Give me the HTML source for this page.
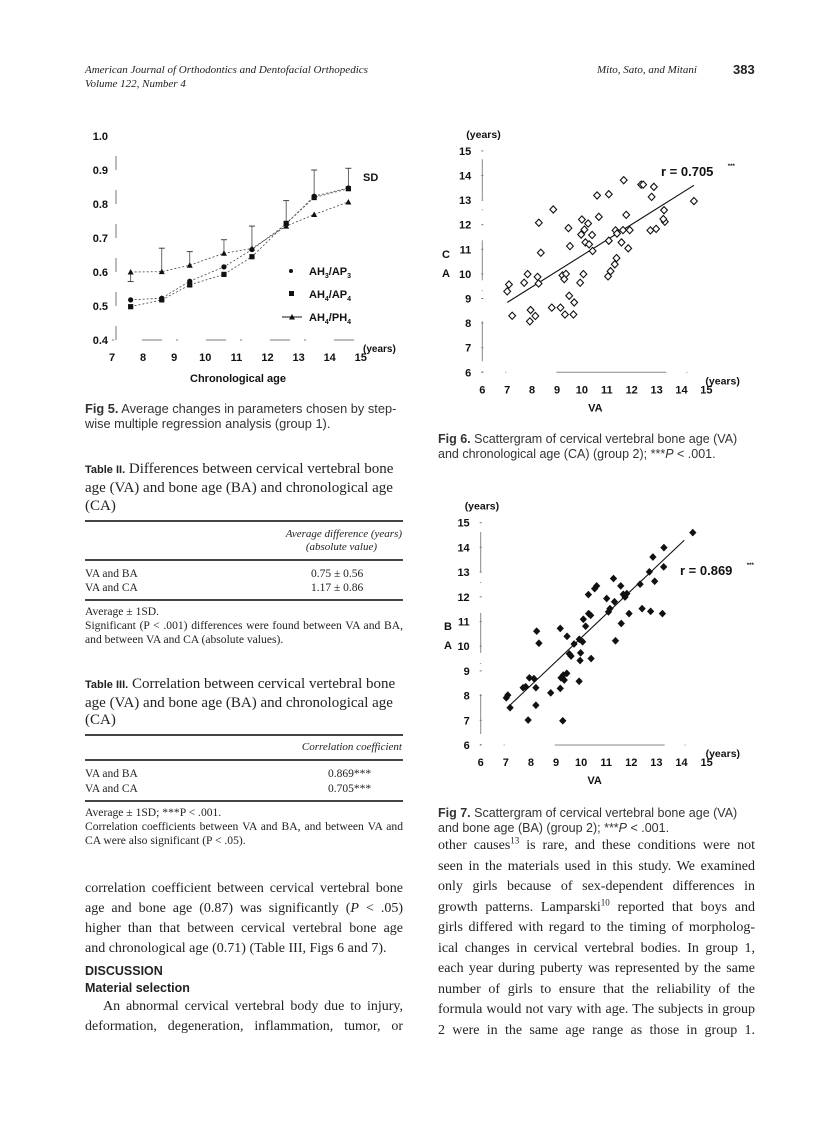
<!DOCTYPE html>
<html><head><meta charset="utf-8"><style>
html,body{margin:0;padding:0;background:#fff}
body{width:838px;height:1122px;position:relative;overflow:hidden;font-family:"Liberation Serif",serif;color:#222}
.t{position:absolute;white-space:nowrap}
.it{font-style:italic}
.sans{font-family:"Liberation Sans",sans-serif}
.j{text-align:justify;text-align-last:justify;white-space:normal}
sup{line-height:0;font-size:9px;vertical-align:super}
.rule{position:absolute;left:85px;width:318px;background:#444}
.note{position:absolute;left:85px;width:318px;font-size:11.6px;line-height:14px}
svg text{font-family:"Liberation Sans",sans-serif;font-weight:bold;fill:#111}
</style></head><body>
<div class="t it" style="left:85px;top:64px;font-size:11px">American Journal of Orthodontics and Dentofacial Orthopedics</div>
<div class="t it" style="left:85px;top:78px;font-size:11px">Volume 122, Number 4</div>
<div class="t it" style="left:597px;top:64px;font-size:11px">Mito, Sato, and Mitani</div>
<div class="t sans" style="left:733px;top:62px;font-size:13px;font-weight:bold">383</div>

<svg id="charts" width="838" height="1122" style="position:absolute;left:0;top:0"></svg>

<div class="t sans" style="left:85px;top:401px;font-size:12.8px;line-height:15px;color:#333"><b>Fig 5.</b> Average changes in parameters chosen by step-<br>wise multiple regression analysis (group 1).</div>

<div class="t" style="left:85px;top:460px;font-size:15px;line-height:18px"><span class="sans" style="font-size:11px;font-weight:bold">Table II.</span> Differences between cervical vertebral bone<br>age (VA) and bone age (BA) and chronological age<br>(CA)</div>
<div class="rule" style="top:520px;height:1.5px"></div>
<div class="t it" style="left:230px;width:172px;top:528px;font-size:11px;line-height:13px;text-align:right">Average difference (years)<br><span style="margin-right:25px">(absolute value)</span></div>
<div class="rule" style="top:559px;height:1.5px"></div>
<div class="t" style="left:85px;top:567px;font-size:11.5px;line-height:14px">VA and BA<br>VA and CA</div>
<div class="t" style="left:311px;top:567px;font-size:11.5px;line-height:14px">0.75 ± 0.56<br>1.17 ± 0.86</div>
<div class="rule" style="top:599px;height:1.5px"></div>
<div class="note" style="top:605px"><div>Average ± 1SD.</div><div class="j">Significant (P &lt; .001) differences were found between VA and BA,</div><div>and between VA and CA (absolute values).</div></div>

<div class="t" style="left:85px;top:676px;font-size:15px;line-height:17.5px"><span class="sans" style="font-size:11px;font-weight:bold">Table III.</span> Correlation between cervical vertebral bone<br>age (VA) and bone age (BA) and chronological age<br>(CA)</div>
<div class="rule" style="top:734px;height:1.5px"></div>
<div class="t it" style="left:230px;width:172px;top:741px;font-size:11px;text-align:right">Correlation coefficient</div>
<div class="rule" style="top:759px;height:1.5px"></div>
<div class="t" style="left:85px;top:767px;font-size:11.5px;line-height:15px">VA and BA<br>VA and CA</div>
<div class="t" style="left:328px;top:767px;font-size:11.5px;line-height:15px">0.869***<br>0.705***</div>
<div class="rule" style="top:800px;height:1.5px"></div>
<div class="note" style="top:806px"><div>Average ± 1SD; ***P &lt; .001.</div><div class="j">Correlation coefficients between VA and BA, and between VA and</div><div>CA were also significant (P &lt; .05).</div></div>

<div class="t sans" style="left:438px;top:432px;font-size:12.5px;line-height:15px;color:#333"><b>Fig 6.</b> Scattergram of cervical vertebral bone age (VA)<br>and chronological age (CA) (group 2); ***<i>P</i> &lt; .001.</div>
<div class="t sans" style="left:438px;top:806px;font-size:12.5px;line-height:15px;color:#333"><b>Fig 7.</b> Scattergram of cervical vertebral bone age (VA)<br>and bone age (BA) (group 2); ***<i>P</i> &lt; .001.</div>

<div style="position:absolute;left:85px;top:879px;width:318px;font-size:14px;line-height:20px">
<div class="j">correlation coefficient between cervical vertebral bone</div>
<div class="j">age and bone age (0.87) was significantly (<i>P</i> &lt; .05)</div>
<div class="j">higher than that between cervical vertebral bone age</div>
<div>and chronological age (0.71) (Table III, Figs 6 and 7).</div>
<div class="sans" style="font-weight:bold;font-size:12.5px;margin-top:3px;line-height:18px">DISCUSSION</div>
<div class="sans" style="font-weight:bold;font-size:12.5px;line-height:17px">Material selection</div>
<div class="j" style="padding-left:18px">An abnormal cervical vertebral body due to injury,</div>
<div class="j">deformation, degeneration, inflammation, tumor, or</div>
</div>
<div style="position:absolute;left:438px;top:836px;width:317px;font-size:14px;line-height:20.5px">
<div class="j">other causes<sup>13</sup> is rare, and these conditions were not</div>
<div class="j">seen in the materials used in this study. We examined</div>
<div class="j">only girls because of sex-dependent differences in</div>
<div class="j">growth patterns. Lamparski<sup>10</sup> reported that boys and</div>
<div class="j">girls differed with regard to the timing of morpholog-</div>
<div class="j">ical changes in cervical vertebral bodies. In group 1,</div>
<div class="j">each year during puberty was represented by the same</div>
<div class="j">number of girls to ensure that the reliability of the</div>
<div class="j">formula would not vary with age. The subjects in group</div>
<div class="j">2 were in the same age range as those in group 1.</div>
</div>

<script>
// ---- Fig 5 data ----
const ageX = [7.6, 8.6, 9.5, 10.6, 11.5, 12.6, 13.5, 14.6];
const ah3ap3 = [0.518, 0.523, 0.573, 0.615, 0.666, 0.741, 0.823, 0.847];
const ah4ap4 = [0.498, 0.518, 0.562, 0.593, 0.645, 0.743, 0.819, 0.845];
const ah4ph4 = [0.600, 0.601, 0.620, 0.655, 0.669, 0.735, 0.769, 0.806];
const sdUpper = [0.572, 0.67, 0.66, 0.695, 0.735, 0.81, 0.9, 0.905];
const yTicks5 = ["0.4","0.5","0.6","0.7","0.8","0.9","1.0"];
const xTicks5 = ["7","8","9","10","11","12","13","14","15"];
// ---- Fig 6 data (VA, CA) ----
const va6 = [7.0,7.07,7.2,7.68,7.82,7.94,7.91,8.13,8.22,8.26,8.27,8.35,8.79,8.85,9.14,9.22,9.32,9.36,9.29,9.46,9.49,9.52,9.69,9.66,9.93,9.97,10.0,10.06,10.1,10.14,10.25,10.29,10.41,10.43,10.61,10.68,11.08,11.08,11.15,11.05,11.32,11.39,11.35,11.41,11.59,11.68,11.65,11.78,11.86,11.92,12.38,12.46,12.75,12.8,12.89,12.98,13.3,13.33,13.27,14.5];
const ca6 = [9.29,9.57,8.3,9.64,9.99,8.53,8.07,8.29,9.88,9.61,12.08,10.86,8.63,12.62,8.63,9.94,8.35,10.0,9.79,11.86,9.11,11.13,8.84,8.35,9.64,11.6,12.21,9.99,11.8,11.28,12.05,11.2,11.58,10.93,13.19,12.32,13.24,11.35,10.11,9.9,10.39,10.64,11.77,11.64,11.28,13.81,11.78,12.4,11.04,11.78,13.63,13.63,11.77,13.13,13.54,11.83,12.59,12.12,12.23,12.96];
const fit6X = [7.0, 14.5];
const fit6Y = [8.84, 13.6];
// ---- Fig 7 data (VA, BA) ----
const va7 = [7.02,7.08,7.17,7.69,7.79,7.94,8.12,8.2,8.2,7.89,8.23,8.32,8.79,9.17,9.17,9.2,9.27,9.29,9.33,9.43,9.44,9.53,9.6,9.72,9.92,9.93,9.98,9.96,10.06,10.09,10.18,10.29,10.3,10.38,10.4,10.54,10.62,11.02,11.09,11.15,11.29,11.33,11.37,11.58,11.6,11.68,11.75,11.82,11.91,12.35,12.43,12.72,12.86,12.93,12.77,13.24,13.29,13.3,14.45];
const ba7 = [7.91,8.02,7.51,8.32,8.36,8.72,8.69,8.32,7.61,7.01,10.61,10.12,8.11,10.72,8.29,8.72,6.98,8.83,8.63,8.9,10.4,9.69,9.6,10.09,8.58,10.28,9.73,9.42,10.18,11.09,10.81,12.09,11.32,11.25,9.5,12.33,12.44,11.93,11.39,11.52,12.74,11.8,10.22,12.44,10.92,12.1,11.99,12.13,11.32,12.51,11.52,13.01,13.61,12.63,11.41,11.32,13.21,13.99,14.6];
const fit7X = [7.12, 14.11];
const fit7Y = [7.57, 14.29];
const scatterTicks = ["6","7","8","9","10","11","12","13","14","15"];

const svg = document.getElementById('charts');
const NS = 'http://www.w3.org/2000/svg';
function mk(tag, attrs, parent){
  const e = document.createElementNS(NS, tag);
  for (const k in attrs) e.setAttribute(k, attrs[k]);
  (parent||svg).appendChild(e);
  return e;
}
function txt(x,y,s,size,anchor,parent){
  const e = mk('text',{x:x,y:y,'font-size':size,'text-anchor':anchor||'start'},parent);
  e.textContent = s; return e;
}

// ===== Fig 5 =====
const g5 = mk('g',{});


const x5 = v => 112 + (v-7)*31.1;
const y5 = v => 340 - (v-0.4)*340;
mk('line',{x1:116,y1:y5(0.4),x2:116,y2:y5(1.0),stroke:'#777','stroke-width':1,'stroke-dasharray':'14 20'},g5);
mk('line',{x1:112,y1:340,x2:361,y2:340,stroke:'#777','stroke-width':1,'stroke-dasharray':'2 28 20 14'},g5);
yTicks5.forEach(s=>{ const t=txt(108,y5(parseFloat(s))+4,s,11,'end',g5);
    });
xTicks5.forEach(s=>{ const t=txt(x5(parseFloat(s)),361,s,11,'middle',g5);
    });
const xt5 = txt(238,382,'Chronological age',11,'middle',g5);


txt(363,352,'(years)',10,'start',g5);
txt(363,181,'SD',11,'start',g5);
ageX.forEach((a,i)=>{
  const top = Math.max(ah3ap3[i], ah4ph4[i]);
  const e = mk('line',{x1:x5(a),y1:y5(top),x2:x5(a),y2:y5(sdUpper[i]),stroke:'#444','stroke-width':0.8},g5);
  
  
  mk('line',{x1:x5(a)-3,y1:y5(sdUpper[i]),x2:x5(a)+3,y2:y5(sdUpper[i]),stroke:'#444','stroke-width':1},g5);
});
function series5(vals, marker, name){
  const pts = vals.map((v,i)=>x5(ageX[i])+','+y5(v)).join(' ');
  const pl = mk('polyline',{points:pts,fill:'none',stroke:'#444','stroke-width':0.8,'stroke-dasharray':'2 2'},g5);
  
  
  vals.forEach((v,i)=>{
    const cx=x5(ageX[i]), cy=y5(v); let m;
    if(marker==='c') m=mk('circle',{cx:cx,cy:cy,r:2.6,fill:'#111'},g5);
    else if(marker==='s') m=mk('rect',{x:cx-2.6,y:cy-2.6,width:5.2,height:5.2,fill:'#111'},g5);
    else m=mk('polygon',{points:`${cx},${cy-3} ${cx-3},${cy+2.5} ${cx+3},${cy+2.5}`,fill:'#111'},g5);
    
    
  });
}
series5(ah4ph4,'t','ah4-ph4');
series5(ah4ap4,'s','ah4-ap4');
series5(ah3ap3,'c','ah3-ap3');
const lg = mk('g',{},g5);


mk('circle',{cx:291,cy:271,r:2,fill:'#111'},lg);
const l1=txt(309,275,'',11,'start',lg); l1.innerHTML='AH<tspan font-size="7" dy="3">3</tspan><tspan dy="-3">/AP</tspan><tspan font-size="7" dy="3">3</tspan>';
mk('rect',{x:289,y:291,width:5,height:5,fill:'#111'},lg);
const l2=txt(309,298,'',11,'start',lg); l2.innerHTML='AH<tspan font-size="7" dy="3">4</tspan><tspan dy="-3">/AP</tspan><tspan font-size="7" dy="3">4</tspan>';
mk('line',{x1:282,y1:317,x2:302,y2:317,stroke:'#111','stroke-width':1},lg);
mk('polygon',{points:'292,314 289,319.5 295,319.5',fill:'#111'},lg);
const l3=txt(309,321,'',11,'start',lg); l3.innerHTML='AH<tspan font-size="7" dy="3">4</tspan><tspan dy="-3">/PH</tspan><tspan font-size="7" dy="3">4</tspan>';

// ===== Scatter helper =====
function scatter(name, xs, ys, fx, fy, ox, oy, px, py, filled, rlabel, rx, ry, ylab, yl){
  const g = mk('g',{});
  
  
  const X = v => ox + (v-6)*px;
  const Y = v => oy - (v-6)*py;
  mk('line',{x1:X(6),y1:Y(6),x2:X(6),y2:Y(15),stroke:'#888','stroke-width':1,'stroke-dasharray':'1 10 40 30'},g);
  mk('line',{x1:X(6),y1:Y(6),x2:X(15),y2:Y(6),stroke:'#888','stroke-width':1,'stroke-dasharray':'1 22 1 50 110 20'},g);
  scatterTicks.forEach(s=>{ const v=parseFloat(s);
    const a=txt(X(6)-11,Y(v)+4,s,11,'end',g);
     
    mk('line',{x1:X(6)-1,y1:Y(v),x2:X(6)+1,y2:Y(v),stroke:'#777','stroke-width':1},g);
    const b=txt(X(v),Y(6)+21,s,11,'middle',g);
     
  });
  txt(X(6)-16,Y(15)-13,'(years)',10.5,'start',g);
  txt(X(15)-1,Y(6)+12,'(years)',10.5,'start',g);
  const xa = txt(X(10.5)+1,Y(6)+39,'VA',11,'middle',g);
   
  const ya1 = txt(yl[0],yl[1],ylab[0],11,'middle',g);
   
  txt(yl[0],yl[1]+19,ylab[1],11,'middle',g);
  const fl = mk('line',{x1:X(fx[0]),y1:Y(fy[0]),x2:X(fx[1]),y2:Y(fy[1]),stroke:'#111','stroke-width':1.1},g);
  
  
  xs.forEach((v,i)=>{
    const cx=X(v), cy=Y(ys[i]);
    const d = mk('polygon',{points:`${cx},${cy-3.6} ${cx+3.4},${cy} ${cx},${cy+3.6} ${cx-3.4},${cy}`,
      fill: filled?'#111':'#fff', stroke:'#111','stroke-width':filled?0.5:1.1},g);
    
    
  });
  const r = txt(rx,ry,rlabel,13,'start',g);
  
  
  txt(rx+(rlabel.length*7.2)+2,ry-8,'***',6,'start',g);
}
scatter('fig6-scatter', va6, ca6, fit6X, fit6Y, 482.3, 372.3, 24.9, 24.6, false, 'r = 0.705', 661, 176, ['C','A'], [446,258]);
scatter('fig7-scatter', va7, ba7, fit7X, fit7Y, 480.7, 745, 25.1, 24.7, true, 'r = 0.869', 680, 575, ['B','A'], [448,630]);
</script>
</body></html>
